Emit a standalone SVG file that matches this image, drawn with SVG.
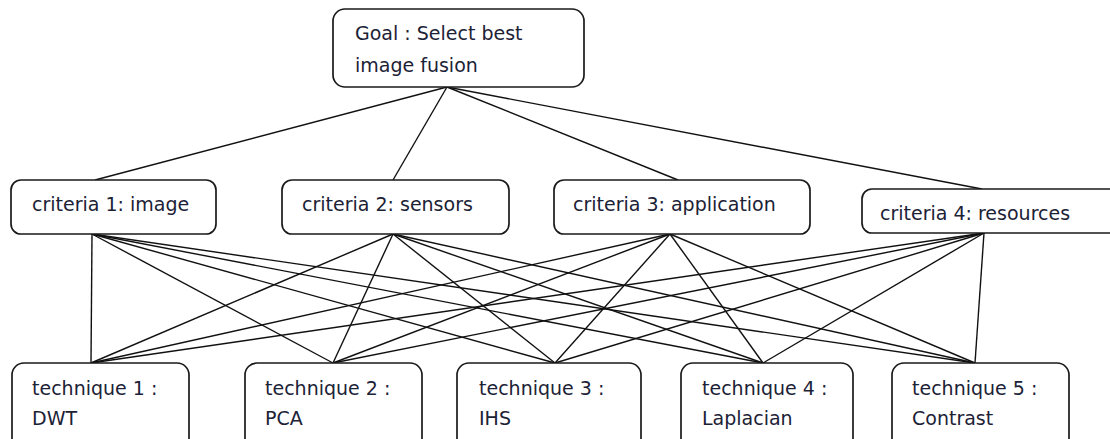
<svg xmlns="http://www.w3.org/2000/svg" width="1110" height="439" viewBox="0 0 1110 439">
<style>
.box{fill:#fff;stroke:#1a1a1a;stroke-width:1.7}
.lbl{font-family:"DejaVu Sans",sans-serif;font-size:19px;fill:#1c2236}
.con line{stroke:#111;stroke-width:1.4}
</style>
<rect width="1110" height="439" fill="#fff"/>
<g id="connectors" class="con">
<line x1="447" y1="87" x2="95" y2="180"/>
<line x1="447" y1="87" x2="393" y2="180"/>
<line x1="447" y1="87" x2="678" y2="180"/>
<line x1="447" y1="87" x2="982" y2="189"/>
<line x1="92" y1="234" x2="91" y2="363"/>
<line x1="92" y1="234" x2="333" y2="363"/>
<line x1="92" y1="234" x2="555" y2="363"/>
<line x1="92" y1="234" x2="763" y2="363"/>
<line x1="92" y1="234" x2="975" y2="363"/>
<line x1="393" y1="234" x2="91" y2="363"/>
<line x1="393" y1="234" x2="333" y2="363"/>
<line x1="393" y1="234" x2="555" y2="363"/>
<line x1="393" y1="234" x2="763" y2="363"/>
<line x1="393" y1="234" x2="975" y2="363"/>
<line x1="670" y1="234" x2="91" y2="363"/>
<line x1="670" y1="234" x2="333" y2="363"/>
<line x1="670" y1="234" x2="555" y2="363"/>
<line x1="670" y1="234" x2="763" y2="363"/>
<line x1="670" y1="234" x2="975" y2="363"/>
<line x1="984" y1="233" x2="91" y2="363"/>
<line x1="984" y1="233" x2="333" y2="363"/>
<line x1="984" y1="233" x2="555" y2="363"/>
<line x1="984" y1="233" x2="763" y2="363"/>
<line x1="984" y1="233" x2="975" y2="363"/>
</g>
<g id="goal">
<rect class="box" x="333" y="9" width="251" height="78" rx="12"/>
<text class="lbl" x="355" y="40">Goal : Select best</text>
<text class="lbl" x="355" y="72">image fusion</text>
</g>
<g id="criteria1">
<rect class="box" x="11" y="180" width="205" height="54" rx="10"/>
<text class="lbl" x="32" y="211">criteria 1: image</text>
</g>
<g id="criteria2">
<rect class="box" x="282" y="180" width="227" height="54" rx="10"/>
<text class="lbl" x="302" y="211">criteria 2: sensors</text>
</g>
<g id="criteria3">
<rect class="box" x="554" y="180" width="256" height="54" rx="10"/>
<text class="lbl" x="573" y="211">criteria 3: application</text>
</g>
<g id="criteria4">
<rect class="box" x="862" y="189" width="262" height="44" rx="10"/>
<text class="lbl" x="880" y="220">criteria 4: resources</text>
</g>
<g id="technique1">
<rect class="box" x="12" y="363" width="177" height="90" rx="12"/>
<text class="lbl" x="32" y="395">technique 1 :</text>
<text class="lbl" x="32" y="425">DWT</text>
</g>
<g id="technique2">
<rect class="box" x="245" y="363" width="177" height="90" rx="12"/>
<text class="lbl" x="265" y="395">technique 2 :</text>
<text class="lbl" x="265" y="425">PCA</text>
</g>
<g id="technique3">
<rect class="box" x="457" y="363" width="184" height="90" rx="12"/>
<text class="lbl" x="479" y="395">technique 3 :</text>
<text class="lbl" x="479" y="425">IHS</text>
</g>
<g id="technique4">
<rect class="box" x="681" y="363" width="172" height="90" rx="12"/>
<text class="lbl" x="702" y="395">technique 4 :</text>
<text class="lbl" x="702" y="425">Laplacian</text>
</g>
<g id="technique5">
<rect class="box" x="892" y="363" width="177" height="90" rx="12"/>
<text class="lbl" x="912" y="395">technique 5 :</text>
<text class="lbl" x="912" y="425">Contrast</text>
</g>
</svg>
